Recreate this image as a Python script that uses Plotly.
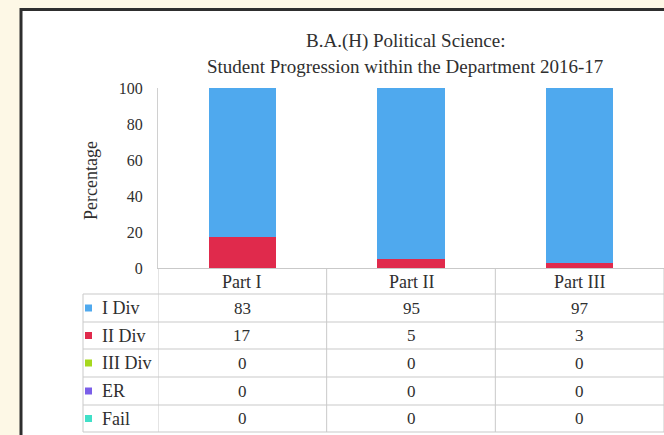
import plotly.graph_objects as go

categories = ["Part I", "Part II", "Part III"]
series_names = ["I Div", "II Div", "III Div", "ER", "Fail"]
i_div = [83, 95, 97]
ii_div = [17, 5, 3]
iii_div = [0, 0, 0]
er = [0, 0, 0]
fail = [0, 0, 0]
y_ticks = [0, 20, 40, 60, 80, 100]
title_lines = ["B.A.(H) Political Science:", "Student Progression within the Department 2016-17"]
y_title = "Percentage"

series_values = [i_div, ii_div, iii_div, er, fail]
colors = ["#4fa9ee", "#e02a4c", "#a6d81e", "#7a5ee8", "#40e0c8"]

W, H = 664, 435
L, R, T, B = 158, 0, 88, 167
PW = W - L - R
PH = H - T - B
FONT = "Liberation Serif"
TXT = "#2f2f2f"


def px(xp):
    return (xp - L) / PW


def py(yp):
    return (T + PH - yp) / PH


fig = go.Figure()
# stacking order: bottom to top
stack_order = [4, 3, 2, 1, 0]
for idx in stack_order:
    fig.add_trace(go.Bar(
        x=categories, y=series_values[idx], name=series_names[idx],
        marker=dict(color=colors[idx], line=dict(width=0)),
        width=0.4, showlegend=False,
    ))

shapes = []
# frame
shapes.append(dict(type="rect", xref="paper", yref="paper",
                   x0=px(21), x1=px(700), y0=py(480), y1=py(9.5),
                   fillcolor="white", line=dict(color="#2e2e2e", width=3), layer="below"))
grid = "#c9c9c9"
row_lines = [294, 322, 349, 377, 405, 432]
for yl in row_lines:
    shapes.append(dict(type="line", xref="paper", yref="paper",
                       x0=px(83), x1=px(700), y0=py(yl), y1=py(yl),
                       line=dict(color=grid, width=1)))
# vertical lines
shapes.append(dict(type="line", xref="paper", yref="paper",
                   x0=px(83), x1=px(83), y0=py(294), y1=py(432),
                   line=dict(color=grid, width=1)))
for k in range(len(categories) + 1):
    shapes.append(dict(type="line", xref="x", yref="paper",
                       x0=k - 0.5, x1=k - 0.5, y0=py(268), y1=py(432),
                       line=dict(color=grid, width=1)))

annotations = []
# title
for i, t in enumerate(title_lines):
    annotations.append(dict(text=t, xref="paper", yref="paper",
                            x=px(405), y=py(41 + 25 * i), xanchor="center", yanchor="middle",
                            showarrow=False, font=dict(family=FONT, size=19, color=TXT)))
# y title
annotations.append(dict(text=y_title, xref="paper", yref="paper", x=px(91), y=py(181),
                        textangle=-90, showarrow=False, xanchor="center", yanchor="middle",
                        font=dict(family=FONT, size=18, color=TXT)))
# header row
for c in categories:
    annotations.append(dict(text=c, xref="x", yref="paper", x=c, y=py(282),
                            showarrow=False, xanchor="center", yanchor="middle",
                            font=dict(family=FONT, size=18, color=TXT)))
row_centers = [308, 335.5, 363, 391, 418.5]
for r, (name, vals) in enumerate(zip(series_names, series_values)):
    yc = row_centers[r]
    annotations.append(dict(text=name, xref="paper", yref="paper", x=px(100), y=py(yc),
                            showarrow=False, xanchor="left", yanchor="middle",
                            font=dict(family=FONT, size=18, color=TXT)))
    shapes.append(dict(type="rect", xref="paper", yref="paper",
                       x0=px(85), x1=px(92), y0=py(yc + 3.5), y1=py(yc - 3.5),
                       fillcolor=colors[r], line=dict(width=0)))
    for c, v in zip(categories, vals):
        annotations.append(dict(text=str(v), xref="x", yref="paper", x=c, y=py(yc),
                                showarrow=False, xanchor="center", yanchor="middle",
                                font=dict(family=FONT, size=17, color=TXT)))

fig.update_layout(
    width=W, height=H,
    margin=dict(l=L, r=R, t=T, b=B, pad=0),
    paper_bgcolor="#fdf8e6",
    plot_bgcolor="rgba(0,0,0,0)",
    barmode="stack",
    bargap=0.6,
    shapes=shapes,
    annotations=annotations,
    xaxis=dict(range=[-0.5, 2.5], showticklabels=False, showgrid=False, zeroline=False,
               showline=True, linecolor="#c9c9c9", linewidth=1, ticks=""),
    yaxis=dict(range=[0, 100], tickvals=y_ticks, showgrid=False, zeroline=False,
               showline=True, linecolor="#d0d0d0", linewidth=1, ticks="",
               ticklabelstandoff=11,
               tickfont=dict(family=FONT, size=16, color=TXT)),
)

fig.write_html("out.html", config={"displayModeBar": False},
               post_script="document.body.style.margin='0';document.body.style.background='#fdf8e6';")
